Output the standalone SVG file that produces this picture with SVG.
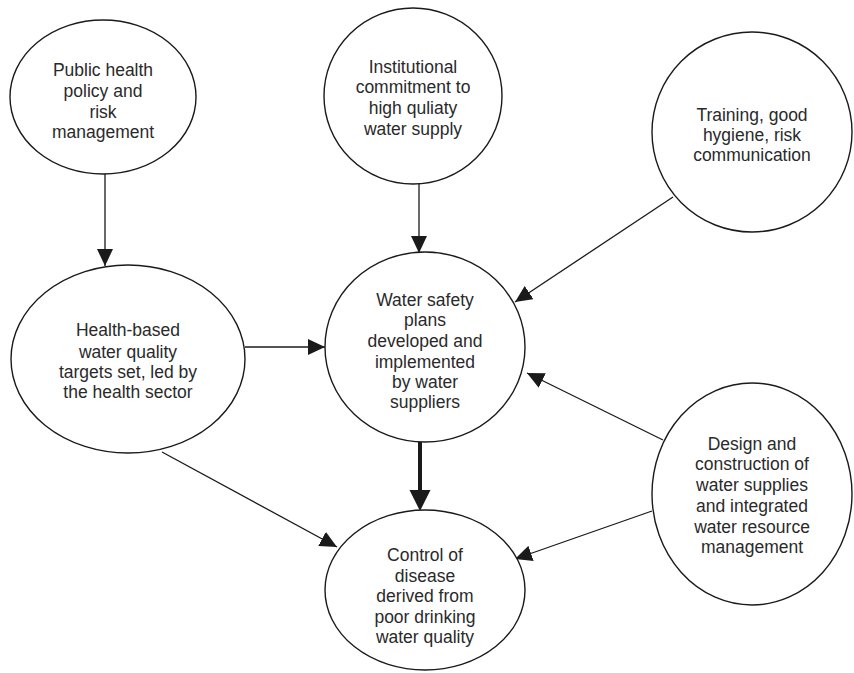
<svg xmlns="http://www.w3.org/2000/svg" width="854" height="673" viewBox="0 0 854 673">
<style>
.n{fill:#fff;stroke:#1a1a1a;stroke-width:1.4}
.t{font-family:"Liberation Sans",Arial,sans-serif;font-size:17.5px;fill:#2a2a2a;text-anchor:middle}
.c{stroke:#1a1a1a;stroke-width:1.3;fill:none}
.h{stroke:#1a1a1a;stroke-width:4;fill:none}
</style>
<defs>
<marker id="a" markerUnits="userSpaceOnUse" markerWidth="18" markerHeight="16" viewBox="0 0 18 16" refX="17" refY="8" orient="auto">
<path d="M0,0 L17,8 L0,16 Z" fill="#1a1a1a"/>
</marker>
</defs>
<g id="connectors">
<line class="c" x1="105" y1="173" x2="105" y2="266" marker-end="url(#a)"/>
<line class="c" x1="419" y1="183" x2="419" y2="253" marker-end="url(#a)"/>
<line class="c" x1="673" y1="197" x2="515" y2="302" marker-end="url(#a)"/>
<line class="c" x1="245" y1="347" x2="325" y2="347" marker-end="url(#a)"/>
<line class="c" x1="663" y1="440" x2="527" y2="373" marker-end="url(#a)"/>
<line class="h" x1="420" y1="442" x2="420" y2="505"/>
<path d="M409.5,490 L430.5,490 L420,511 Z" fill="#1a1a1a"/>
<line class="c" x1="162" y1="452" x2="337" y2="547" marker-end="url(#a)"/>
<line class="c" x1="652" y1="511" x2="515" y2="559" marker-end="url(#a)"/>
</g>
<g id="public-health">
<ellipse class="n" cx="103" cy="97" rx="93" ry="77"/>
<text class="t" x="103" y="76">Public health</text>
<text class="t" x="103" y="97">policy and</text>
<text class="t" x="103" y="118">risk</text>
<text class="t" x="103" y="138">management</text>
</g>
<g id="institutional">
<ellipse class="n" cx="413" cy="96" rx="89" ry="88"/>
<text class="t" x="413" y="73">Institutional</text>
<text class="t" x="413" y="93">commitment to</text>
<text class="t" x="413" y="114">high quliaty</text>
<text class="t" x="413" y="135">water supply</text>
</g>
<g id="training">
<ellipse class="n" cx="752" cy="132" rx="100" ry="100"/>
<text class="t" x="752" y="121">Training, good</text>
<text class="t" x="752" y="141">hygiene, risk</text>
<text class="t" x="752" y="161">communication</text>
</g>
<g id="health-based">
<ellipse class="n" cx="128" cy="359" rx="117" ry="94"/>
<text class="t" x="128" y="336">Health-based</text>
<text class="t" x="128" y="358">water quality</text>
<text class="t" x="128" y="378">targets set, led by</text>
<text class="t" x="128" y="398">the health sector</text>
</g>
<g id="water-safety">
<ellipse class="n" cx="425" cy="347" rx="100" ry="95"/>
<text class="t" x="425" y="306">Water safety</text>
<text class="t" x="425" y="326">plans</text>
<text class="t" x="425" y="347">developed and</text>
<text class="t" x="425" y="368">implemented</text>
<text class="t" x="425" y="388">by water</text>
<text class="t" x="425" y="408">suppliers</text>
</g>
<g id="control">
<ellipse class="n" cx="425" cy="590" rx="100" ry="80"/>
<text class="t" x="425" y="561">Control of</text>
<text class="t" x="425" y="582">disease</text>
<text class="t" x="425" y="602">derived from</text>
<text class="t" x="425" y="623">poor drinking</text>
<text class="t" x="425" y="643">water quality</text>
</g>
<g id="design">
<ellipse class="n" cx="752" cy="494" rx="100" ry="111"/>
<text class="t" x="752" y="450">Design and</text>
<text class="t" x="752" y="470">construction of</text>
<text class="t" x="752" y="491">water supplies</text>
<text class="t" x="752" y="512">and integrated</text>
<text class="t" x="752" y="533">water resource</text>
<text class="t" x="752" y="553">management</text>
</g>
</svg>
